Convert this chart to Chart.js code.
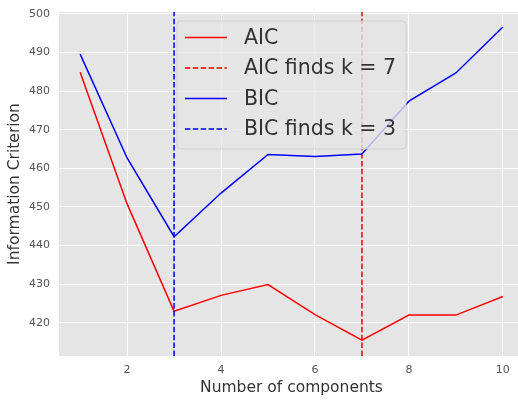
<!DOCTYPE html>
<html>
<head>
<meta charset="utf-8">
<script src="https://cdn.jsdelivr.net/npm/chart.js@4"></script>
<style>
  html, body { margin: 0; padding: 0; background: #ffffff; overflow: hidden; }
  #wrap { position: relative; width: 524px; height: 402px; }
</style>
</head>
<body>
<div id="wrap"><canvas id="icChart"></canvas></div>
<script>
// number of mixture components tried
const components = [1, 2, 3, 4, 5, 6, 7, 8, 9, 10];

// information criterion per component count
const aicValues = [484.9, 450.8, 423.0, 427.1, 429.9, 422.1, 415.5, 422.0, 422.0, 426.8];
const bicValues = [489.6, 462.7, 442.3, 453.6, 463.6, 463.1, 463.7, 477.4, 484.7, 496.6];

// best k chosen by each criterion
const aicBestK = 7;
const bicBestK = 3;

const xTicks = [2, 4, 6, 8, 10];
const yTicks = [420, 430, 440, 450, 460, 470, 480, 490, 500];

const xMin = 0.55, xMax = 10.45;
const yMin = 411.4, yMax = 500.5;

const toPoints = values => values.map((v, i) => ({ x: components[i], y: v }));
const vline = k => [{ x: k, y: yMin }, { x: k, y: yMax }];

const legendItems = [
  { text: "AIC", color: "#ff0000", dash: [] },
  { text: "AIC finds k = " + aicBestK, color: "#ff0000", dash: [5.5, 2.4] },
  { text: "BIC", color: "#0000ff", dash: [] },
  { text: "BIC finds k = " + bicBestK, color: "#0000ff", dash: [5.5, 2.4] }
];

// gray panel behind the plot
const panelBackground = {
  id: "panelBackground",
  beforeDraw(chart) {
    const { ctx, chartArea: a } = chart;
    ctx.save();
    ctx.fillStyle = "#e5e5e5";
    ctx.fillRect(a.left, a.top, a.right - a.left, a.bottom - a.top);
    ctx.restore();
  }
};

// semi-transparent legend placed inside the plot, upper center
const insideLegend = {
  id: "insideLegend",
  afterDatasetsDraw(chart) {
    const { ctx, chartArea: a, scales } = chart;
    ctx.save();
    ctx.font = "20.5px 'DejaVu Sans', sans-serif";
    const textW = Math.max(...legendItems.map(it => ctx.measureText(it.text).width));
    const padL = 8, lineLen = 42, gap = 17, padR = 10, rowH = 30.5;
    const w = padL + lineLen + gap + textW + padR;
    const h = 128;
    const cx = scales.x.getPixelForValue((xMin + xMax) / 2);
    const left = cx - w / 2;
    const top = a.top + 9;

    ctx.beginPath();
    ctx.roundRect(left, top, w, h, 4);
    ctx.fillStyle = "rgba(229,229,229,0.8)";
    ctx.fill();
    ctx.strokeStyle = "rgba(204,204,204,0.8)";
    ctx.lineWidth = 1;
    ctx.stroke();

    legendItems.forEach((it, i) => {
      const y = top + 16.5 + i * rowH;
      ctx.beginPath();
      ctx.setLineDash(it.dash);
      ctx.strokeStyle = it.color;
      ctx.lineWidth = 1.5;
      ctx.moveTo(left + padL, y);
      ctx.lineTo(left + padL + lineLen, y);
      ctx.stroke();
      ctx.setLineDash([]);
      ctx.fillStyle = "#333333";
      ctx.textBaseline = "middle";
      ctx.textAlign = "left";
      ctx.fillText(it.text, left + padL + lineLen + gap, y + 1);
    });
    ctx.restore();
  }
};

const ctx = document.getElementById("icChart").getContext("2d");

new Chart(ctx, {
  type: "line",
  data: {
    datasets: [
      {
        label: "AIC",
        data: toPoints(aicValues),
        borderColor: "#ff0000",
        borderWidth: 1.5,
        pointRadius: 0,
        tension: 0,
        order: 4
      },
      {
        label: "AIC finds k = " + aicBestK,
        data: vline(aicBestK),
        borderColor: "#ff0000",
        borderWidth: 1.5,
        borderDash: [5.5, 2.4],
        pointRadius: 0,
        order: 3
      },
      {
        label: "BIC",
        data: toPoints(bicValues),
        borderColor: "#0000ff",
        borderWidth: 1.5,
        pointRadius: 0,
        tension: 0,
        order: 2
      },
      {
        label: "BIC finds k = " + bicBestK,
        data: vline(bicBestK),
        borderColor: "#0000ff",
        borderWidth: 1.5,
        borderDash: [5.5, 2.4],
        pointRadius: 0,
        order: 1
      }
    ]
  },
  options: {
    responsive: true,
    maintainAspectRatio: false,
    animation: false,
    layout: { padding: { top: 12, right: 0, bottom: 0, left: 0 } },
    plugins: {
      legend: { display: false },
      tooltip: { enabled: false }
    },
    scales: {
      x: {
        type: "linear",
        min: xMin,
        max: xMax,
        afterBuildTicks: axis => { axis.ticks = xTicks.map(v => ({ value: v })); },
        afterFit: axis => {
          axis.height = 46;
          axis.paddingLeft = 0;
          axis.paddingRight = 0;
        },
        border: { display: false },
        grid: { color: "#ffffff", lineWidth: 1, drawTicks: false },
        ticks: {
          color: "#555555",
          padding: 8,
          maxRotation: 0,
          font: { family: "'DejaVu Sans', sans-serif", size: 11 }
        },
        title: {
          display: true,
          text: "Number of components",
          color: "#333333",
          padding: { top: 0, bottom: 5 },
          font: { family: "'DejaVu Sans', sans-serif", size: 15.5 }
        }
      },
      y: {
        min: yMin,
        max: yMax,
        afterBuildTicks: axis => { axis.ticks = yTicks.map(v => ({ value: v })); },
        afterFit: axis => {
          axis.width = 59;
          axis.paddingTop = 0;
          axis.paddingBottom = 0;
        },
        border: { display: false },
        grid: { color: "#ffffff", lineWidth: 1, drawTicks: false },
        ticks: {
          color: "#555555",
          padding: 9,
          font: { family: "'DejaVu Sans', sans-serif", size: 11 }
        },
        title: {
          display: true,
          text: "Information Criterion",
          color: "#333333",
          padding: { top: 6, bottom: 0 },
          font: { family: "'DejaVu Sans', sans-serif", size: 15.5 }
        }
      }
    }
  },
  plugins: [panelBackground, insideLegend]
});
</script>
</body>
</html>
